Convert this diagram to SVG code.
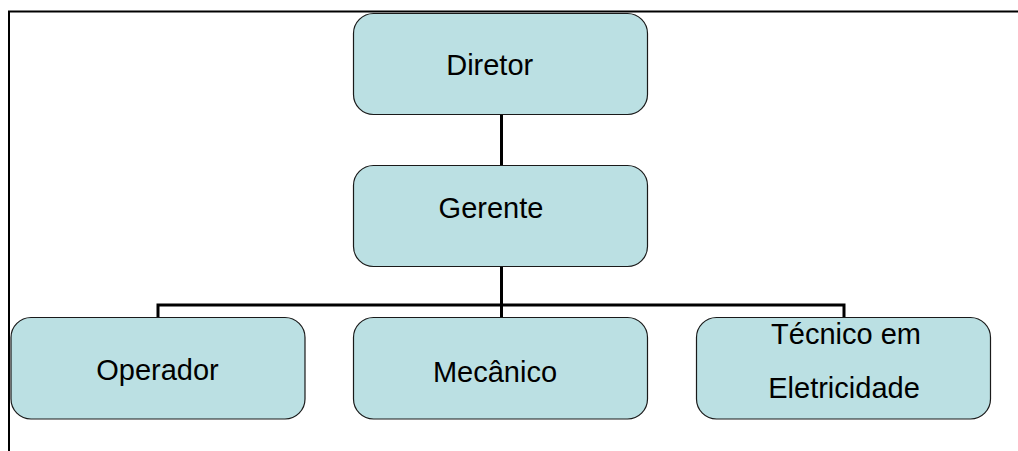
<svg xmlns="http://www.w3.org/2000/svg" width="1018" height="451" viewBox="0 0 1018 451">
<style>
.box{fill:#BBE0E3;stroke:#1a1a1a;stroke-width:1.2}
.lbl{font-family:"Liberation Sans",Arial,sans-serif;font-size:29px;fill:#000;text-anchor:middle}
.conn{stroke:#000;stroke-width:3;fill:none}
.frame{stroke:#000;stroke-width:2;fill:none}
</style>
<rect width="1018" height="451" fill="#fff"/>
<g id="frame"><path class="frame" d="M9,451 V11.5 H1018"/></g>
<g id="connectors">
<path class="conn" d="M501.5,114 V165"/>
<path class="conn" d="M501.5,267 V305"/>
<path class="conn" d="M158,317 V305 H844 V317"/>
<path class="conn" d="M501.5,305 V317"/>
</g>
<g id="diretor"><rect class="box" x="353.5" y="13.5" width="294" height="101" rx="20"/><text class="lbl" x="489.7" y="75">Diretor</text></g>
<g id="gerente"><rect class="box" x="353.5" y="165.5" width="294" height="101" rx="20"/><text class="lbl" x="491" y="218.3">Gerente</text></g>
<g id="operador"><rect class="box" x="11" y="317.5" width="294" height="101.5" rx="20"/><text class="lbl" x="157.5" y="380">Operador</text></g>
<g id="mecanico"><rect class="box" x="353.5" y="317.5" width="294" height="101.5" rx="20"/><text class="lbl" x="495" y="381.7">Mecânico</text></g>
<g id="tecnico"><rect class="box" x="696.5" y="317.5" width="294" height="101.5" rx="20"/><text class="lbl" x="846" y="344.3">Técnico em</text><text class="lbl" x="844" y="397.7">Eletricidade</text></g>
</svg>
